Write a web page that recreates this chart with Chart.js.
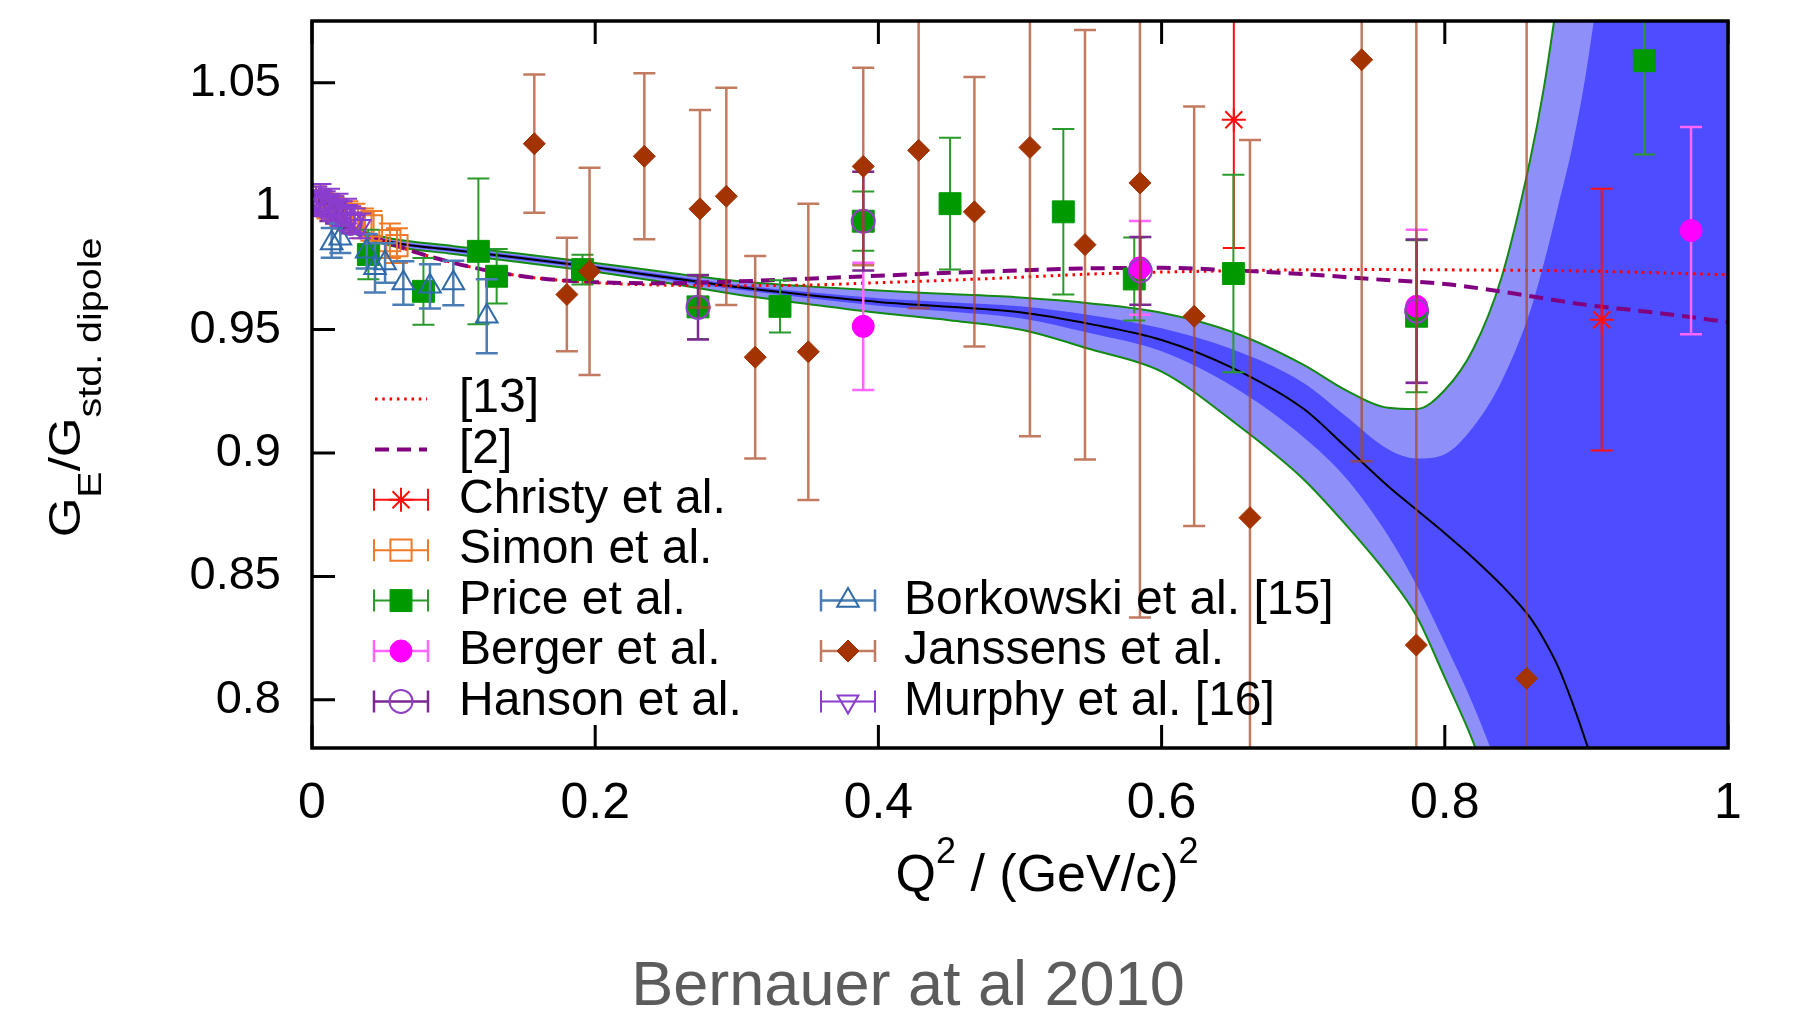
<!DOCTYPE html>
<html>
<head>
<meta charset="utf-8">
<script src="https://cdn.jsdelivr.net/npm/chart.js"></script>
<style>
  html, body { margin: 0; padding: 0; background: #fff; }
  #wrap { position: relative; width: 1814px; height: 1013px; }
</style>
</head>
<body>
<div id="wrap"><canvas id="c" width="1814" height="1013" style="width:1814px;height:1013px"></canvas></div>
<script>
var FONT = '"Liberation Sans", Arial, Helvetica, sans-serif';

// axes
var xTicks = [0, 0.2, 0.4, 0.6, 0.8, 1];
var yTicks = [0.8, 0.85, 0.9, 0.95, 1, 1.05];

// model curves [13] and [2]
var curveQ2 = [0, 0.02, 0.05, 0.1, 0.15, 0.2, 0.25, 0.3, 0.35, 0.4, 0.45, 0.5, 0.55, 0.6, 0.65, 0.7, 0.75, 0.8, 0.85, 0.9, 0.95, 1.0];
var ref13 = [1.0, 0.994, 0.986, 0.977, 0.9715, 0.969, 0.968, 0.9678, 0.968, 0.969, 0.970, 0.9712, 0.9725, 0.9733, 0.9738, 0.9742, 0.9743, 0.9742, 0.974, 0.9737, 0.973, 0.9722];
var ref2 = [1.0, 0.994, 0.986, 0.977, 0.9715, 0.9692, 0.9688, 0.9695, 0.9706, 0.9718, 0.973, 0.974, 0.9748, 0.975, 0.974, 0.9725, 0.9704, 0.9685, 0.9645, 0.960, 0.9568, 0.953];

// fit with inner (stat) and outer (total) bands
var bandQ2 = [0, 0.02, 0.05, 0.1, 0.15, 0.2, 0.25, 0.3, 0.35, 0.4, 0.45, 0.5, 0.55, 0.6, 0.65, 0.7, 0.73, 0.76, 0.78, 0.8, 0.82, 0.84, 0.86, 0.87, 0.88, 0.89, 0.9, 0.92, 0.95, 1.0];
var fitCentral = [1.0, 0.9925, 0.9862, 0.9822, 0.9788, 0.9752, 0.9712, 0.9672, 0.964, 0.9612, 0.9592, 0.957, 0.9522, 0.9458, 0.9345, 0.918, 0.9025, 0.8865, 0.877, 0.8675, 0.8575, 0.8465, 0.8335, 0.8245, 0.8135, 0.799, 0.7825, 0.745, 0.68, 0.57];
var statHi = [1.0004, 0.9929, 0.9868, 0.9829, 0.9796, 0.976, 0.9721, 0.9682, 0.9652, 0.9627, 0.9611, 0.9594, 0.9558, 0.9505, 0.942, 0.9285, 0.915, 0.9015, 0.8978, 0.8995, 0.9105, 0.929, 0.957, 0.977, 1.0, 1.024, 1.055, 1.14, 1.3, 1.6];
var statLo = [0.9996, 0.9921, 0.9856, 0.9815, 0.978, 0.9744, 0.9703, 0.9662, 0.9628, 0.9597, 0.9573, 0.9546, 0.9485, 0.9412, 0.927, 0.9065, 0.89, 0.8665, 0.8465, 0.823, 0.798, 0.7685, 0.735, 0.718, 0.7, 0.68, 0.66, 0.62, 0.55, 0.4];
var totHi = [1.0008, 0.9934, 0.9876, 0.9838, 0.9805, 0.977, 0.9732, 0.9697, 0.9675, 0.9658, 0.9644, 0.963, 0.9606, 0.9568, 0.949, 0.9358, 0.9255, 0.9183, 0.9178, 0.9255, 0.942, 0.971, 1.018, 1.048, 1.086, 1.125, 1.165, 1.25, 1.4, 1.7];
var totLo = [0.9992, 0.9916, 0.9848, 0.9806, 0.9771, 0.9734, 0.969, 0.9642, 0.9604, 0.9568, 0.9538, 0.95, 0.942, 0.933, 0.913, 0.8895, 0.871, 0.8505, 0.834, 0.809, 0.783, 0.75, 0.715, 0.695, 0.675, 0.655, 0.635, 0.59, 0.52, 0.35];

// measurements
var christyQ2 = [0.651, 0.9108];
var christyG = [1.035, 0.954];
var christyErr = [0.052, 0.053];

var simonQ2 = [0.003, 0.007, 0.011, 0.015, 0.02, 0.025, 0.03, 0.036, 0.042, 0.055, 0.06];
var simonG = [1.002, 1.001, 1.0, 0.999, 0.997, 0.996, 0.995, 0.993, 0.992, 0.986, 0.984];
var simonErr = [0.006, 0.005, 0.005, 0.005, 0.005, 0.006, 0.006, 0.006, 0.006, 0.007, 0.007];

var priceQ2 = [0.0398, 0.0787, 0.1175, 0.1304, 0.191, 0.2726, 0.3305, 0.3893, 0.4506, 0.5306, 0.5807, 0.6507, 0.7801, 0.9409];
var priceG = [0.9804, 0.9655, 0.9817, 0.9716, 0.9743, 0.9592, 0.9594, 0.9939, 1.001, 0.9977, 0.9705, 0.9727, 0.9554, 1.0589];
var priceErr = [0.01, 0.0135, 0.0295, 0.011, 0.006, 0.013, 0.0106, 0.012, 0.0267, 0.0335, 0.0168, 0.040, 0.0308, 0.038];

var bergerQ2 = [0.3893, 0.5847, 0.7801, 0.9739];
var bergerG = [0.9513, 0.975, 0.9594, 0.9901];
var bergerErr = [0.0258, 0.019, 0.031, 0.042];

var hansonQ2 = [0.005, 0.009, 0.013, 0.017, 0.022, 0.027, 0.2726, 0.3893, 0.585, 0.7801];
var hansonG = [1.001, 1.0, 0.998, 0.997, 0.995, 0.993, 0.959, 0.9939, 0.9738, 0.9575];
var hansonErr = [0.004, 0.004, 0.004, 0.004, 0.004, 0.004, 0.013, 0.02, 0.0137, 0.029];

var borkowskiQ2 = [0.0139, 0.02, 0.0386, 0.0445, 0.0516, 0.0645, 0.0833, 0.0998, 0.1234];
var borkowskiG = [0.9851, 0.987, 0.9817, 0.975, 0.977, 0.9689, 0.9675, 0.9689, 0.9554];
var borkowskiErr = [0.006, 0.006, 0.007, 0.01, 0.008, 0.0088, 0.009, 0.009, 0.015];

var janssensQ2 = [0.157, 0.18, 0.196, 0.2347, 0.274, 0.2926, 0.313, 0.3505, 0.3893, 0.4284, 0.4678, 0.507, 0.5459, 0.5847, 0.623, 0.6624, 0.7413, 0.7799, 0.8578];
var janssensG = [1.0253, 0.9642, 0.9736, 1.0202, 0.9989, 1.004, 0.9388, 0.941, 1.0161, 1.0226, 0.9977, 1.0238, 0.9844, 1.0094, 0.9554, 0.8738, 1.0593, 0.8222, 0.8087];
var janssensErr = [0.028, 0.023, 0.042, 0.0336, 0.04, 0.044, 0.041, 0.06, 0.04, 0.064, 0.0546, 0.117, 0.087, 0.176, 0.085, 0.153, 0.1626, 0.3, 0.3];

var murphyQ2 = [0.003, 0.006, 0.009, 0.012, 0.015, 0.018, 0.021, 0.024, 0.027, 0.03, 0.034];
var murphyG = [1.003, 1.004, 1.001, 1.002, 0.999, 1.0, 0.997, 0.998, 0.995, 0.994, 0.992];
var murphyErr = [0.005, 0.005, 0.005, 0.005, 0.005, 0.005, 0.005, 0.005, 0.005, 0.005, 0.005];

function pts(xs, ys) {
  return xs.map(function (x, i) { return { x: x, y: ys[i] }; });
}

function marks(label, xs, ys, err, o) {
  return {
    label: label, data: pts(xs, ys), err: err, showLine: false,
    errColor: o.err, errWidth: o.ew || 2,
    pointStyle: o.style, pointRadius: o.r, pointRotation: o.rot || 0,
    pointBackgroundColor: o.fill || 'rgba(0,0,0,0)', pointBorderColor: o.line,
    pointBorderWidth: o.bw || 2, legendCol: o.col, legendRow: o.row
  };
}

function curve(label, ys, o) {
  return {
    label: label, data: pts(o.xs || curveQ2, ys), showLine: true, pointRadius: 0,
    borderColor: o.color, borderWidth: o.w, borderDash: o.dash || [],
    backgroundColor: o.bg || 'rgba(0,0,0,0)', fill: o.fill === undefined ? false : o.fill,
    cubicInterpolationMode: 'monotone', legendCol: o.col, legendRow: o.row
  };
}

// index order: lower index is drawn on top
var datasets = [
  marks('Murphy et al. [16]', murphyQ2, murphyG, murphyErr, { style: 'triangle', rot: 180, r: 12, line: '#8a3ccc', err: '#8a3ccc', col: 1, row: 6 }),
  marks('Janssens et al.', janssensQ2, janssensG, janssensErr, { style: 'rectRot', r: 11, fill: '#a33300', line: '#a33300', bw: 1, err: 'rgba(170,70,35,0.72)', ew: 2.5, col: 1, row: 5 }),
  marks('Borkowski et al. [15]', borkowskiQ2, borkowskiG, borkowskiErr, { style: 'triangle', r: 12.5, line: '#2f6aa8', err: '#4a7db5', ew: 2.5, col: 1, row: 4 }),
  marks('Hanson et al.', hansonQ2, hansonG, hansonErr, { style: 'circle', r: 11.5, line: '#9040c4', err: '#7a2a92', ew: 2.5, col: 0, row: 6 }),
  marks('Berger et al.', bergerQ2, bergerG, bergerErr, { style: 'circle', r: 11, fill: '#ff00ff', line: '#ff00ff', bw: 1, err: '#ff66ff', ew: 2.5, col: 0, row: 5 }),
  marks('Price et al.', priceQ2, priceG, priceErr, { style: 'rect', r: 15.5, fill: '#009a00', line: '#009a00', bw: 1, err: '#2a9a2a', col: 0, row: 4 }),
  marks('Simon et al.', simonQ2, simonG, simonErr, { style: 'rect', r: 15, line: '#f07a28', err: '#f07a28', col: 0, row: 3 }),
  marks('Christy et al.', christyQ2, christyG, christyErr, { style: 'star', r: 12, line: '#ff1010', err: '#ff1010', col: 0, row: 2 }),
  curve('[2]', ref2, { color: '#800080', w: 4, dash: [14, 8], col: 0, row: 1 }),
  curve('[13]', ref13, { color: '#ff0000', w: 3, dash: [2.5, 4.8], col: 0, row: 0 }),
  curve('fit', fitCentral, { xs: bandQ2, color: '#000000', w: 2 }),
  curve('stat lo', statLo, { xs: bandQ2, color: 'rgba(0,0,0,0)', w: 0 }),
  curve('stat hi', statHi, { xs: bandQ2, color: 'rgba(0,0,0,0)', w: 0, bg: '#4d4dff', fill: 11 }),
  curve('total lo', totLo, { xs: bandQ2, color: '#138a13', w: 2 }),
  curve('total hi', totHi, { xs: bandQ2, color: '#138a13', w: 2, bg: '#8f8ffa', fill: 13 })
];

var CAP = 11;

var errorBars = {
  id: 'errorBars',
  beforeDatasetDraw: function (chart, args) {
    var ds = chart.data.datasets[args.index];
    if (!ds.err) return;
    var ctx = chart.ctx, sx = chart.scales.x, sy = chart.scales.y, a = chart.chartArea;
    ctx.save();
    ctx.beginPath();
    ctx.rect(a.left, a.top, a.right - a.left, a.bottom - a.top);
    ctx.clip();
    ctx.strokeStyle = ds.errColor;
    ctx.lineWidth = ds.errWidth;
    ctx.beginPath();
    ds.data.forEach(function (p, i) {
      var px = sx.getPixelForValue(p.x);
      var y1 = sy.getPixelForValue(p.y + ds.err[i]);
      var y2 = sy.getPixelForValue(p.y - ds.err[i]);
      ctx.moveTo(px, y1); ctx.lineTo(px, y2);
      ctx.moveTo(px - CAP, y1); ctx.lineTo(px + CAP, y1);
      ctx.moveTo(px - CAP, y2); ctx.lineTo(px + CAP, y2);
    });
    ctx.stroke();
    ctx.restore();
  }
};

// inward tick marks on all four sides, behind the data
var innerTicks = {
  id: 'innerTicks',
  beforeDatasetsDraw: function (chart) {
    var ctx = chart.ctx, a = chart.chartArea, sx = chart.scales.x, sy = chart.scales.y, L = 23;
    ctx.save();
    ctx.strokeStyle = '#000';
    ctx.lineWidth = 3;
    ctx.beginPath();
    xTicks.forEach(function (v) {
      var px = sx.getPixelForValue(v);
      ctx.moveTo(px, a.bottom); ctx.lineTo(px, a.bottom - L);
      ctx.moveTo(px, a.top); ctx.lineTo(px, a.top + L);
    });
    yTicks.forEach(function (v) {
      var py = sy.getPixelForValue(v);
      ctx.moveTo(a.left, py); ctx.lineTo(a.left + L, py);
      ctx.moveTo(a.right, py); ctx.lineTo(a.right - L, py);
    });
    ctx.stroke();
    ctx.restore();
  }
};

function drawParts(ctx, parts, x, y) {
  var w = 0;
  parts.forEach(function (p) { ctx.font = p[1] + 'px ' + FONT; w += ctx.measureText(p[0]).width; });
  var cx = x - w / 2;
  parts.forEach(function (p) {
    ctx.font = p[1] + 'px ' + FONT;
    ctx.fillText(p[0], cx, y + p[2]);
    cx += ctx.measureText(p[0]).width;
  });
}

var overlay = {
  id: 'overlay',
  afterDatasetsDraw: function (chart) {
    var ctx = chart.ctx, a = chart.chartArea, H = Chart.helpers;
    var cols = [{ s: 89, t: 147 }, { s: 536, t: 592 }];
    ctx.save();
    chart.data.datasets.forEach(function (ds) {
      if (ds.legendCol === undefined) return;
      var c = cols[ds.legendCol];
      var sx = a.left + c.s, sy = a.top + 378 + ds.legendRow * 50.4;
      if (ds.err) {
        ctx.strokeStyle = ds.errColor;
        ctx.lineWidth = ds.errWidth;
        ctx.setLineDash([]);
        ctx.beginPath();
        ctx.moveTo(sx - 27, sy); ctx.lineTo(sx + 27, sy);
        ctx.moveTo(sx - 27, sy - CAP); ctx.lineTo(sx - 27, sy + CAP);
        ctx.moveTo(sx + 27, sy - CAP); ctx.lineTo(sx + 27, sy + CAP);
        ctx.stroke();
        ctx.fillStyle = ds.pointBackgroundColor;
        ctx.strokeStyle = ds.pointBorderColor;
        ctx.lineWidth = ds.pointBorderWidth;
        H.drawPoint(ctx, { pointStyle: ds.pointStyle, radius: ds.pointRadius, rotation: ds.pointRotation, borderWidth: ds.pointBorderWidth }, sx, sy);
      } else {
        ctx.strokeStyle = ds.borderColor;
        ctx.lineWidth = ds.borderWidth;
        ctx.setLineDash(ds.borderDash);
        ctx.beginPath();
        ctx.moveTo(sx - 26, sy); ctx.lineTo(sx + 26, sy);
        ctx.stroke();
        ctx.setLineDash([]);
      }
      ctx.fillStyle = '#000';
      ctx.font = '48px ' + FONT;
      ctx.textAlign = 'left';
      ctx.textBaseline = 'middle';
      ctx.fillText(ds.label, a.left + c.t, sy);
    });
    // frame
    ctx.strokeStyle = '#000';
    ctx.lineWidth = 3.5;
    ctx.strokeRect(a.left, a.top, a.right - a.left, a.bottom - a.top);
    ctx.restore();
  },
  afterDraw: function (chart) {
    var ctx = chart.ctx, a = chart.chartArea;
    ctx.save();
    ctx.fillStyle = '#000';
    ctx.textBaseline = 'alphabetic';
    ctx.textAlign = 'left';
    // y title: G_E / G_std. dipole
    ctx.save();
    ctx.translate(80, (a.top + a.bottom) / 2 + 3);
    ctx.rotate(-Math.PI / 2);
    ctx.scale(1.16, 1);
    drawParts(ctx, [['G', 44, 0], ['E', 34, 21], ['/', 44, 0], ['G', 44, 0], ['std. dipole', 34, 21]], 0, 0);
    ctx.restore();
    // x title: Q^2 / (GeV/c)^2
    drawParts(ctx, [['Q', 52, 0], ['2', 36, -28], [' / (GeV/c)', 52, 0], ['2', 36, -28]], (a.left + a.right) / 2 + 27, 891);
    // caption
    ctx.fillStyle = '#5c5c5c';
    drawParts(ctx, [['Bernauer at al 2010', 63, 0]], 908, 1005);
    ctx.restore();
  }
};

new Chart(document.getElementById('c'), {
  type: 'line',
  data: { datasets: datasets },
  options: {
    responsive: false,
    animation: false,
    events: [],
    layout: { padding: { left: 0, top: 21, right: 86, bottom: 0 } },
    scales: {
      x: {
        type: 'linear', min: 0, max: 1,
        grid: { display: false, drawTicks: false },
        border: { display: false },
        afterBuildTicks: function (s) { s.ticks = xTicks.map(function (v) { return { value: v }; }); },
        afterFit: function (s) { s.height = 265; s.paddingLeft = 0; s.paddingRight = 0; },
        ticks: {
          autoSkip: false, maxRotation: 0, padding: 26, color: '#000',
          font: { family: FONT, size: 50 },
          callback: function (v) { return String(v); }
        }
      },
      y: {
        type: 'linear', min: 0.7805, max: 1.075,
        grid: { display: false, drawTicks: false },
        border: { display: false },
        afterBuildTicks: function (s) { s.ticks = yTicks.map(function (v) { return { value: v }; }); },
        afterFit: function (s) { s.width = 312; s.paddingTop = 0; s.paddingBottom = 0; },
        ticks: {
          autoSkip: false, padding: 31, color: '#000',
          font: { family: FONT, size: 47 },
          callback: function (v) { return String(v); }
        }
      }
    },
    plugins: { legend: { display: false }, tooltip: { enabled: false } }
  },
  plugins: [errorBars, innerTicks, overlay]
});
</script>
</body>
</html>
